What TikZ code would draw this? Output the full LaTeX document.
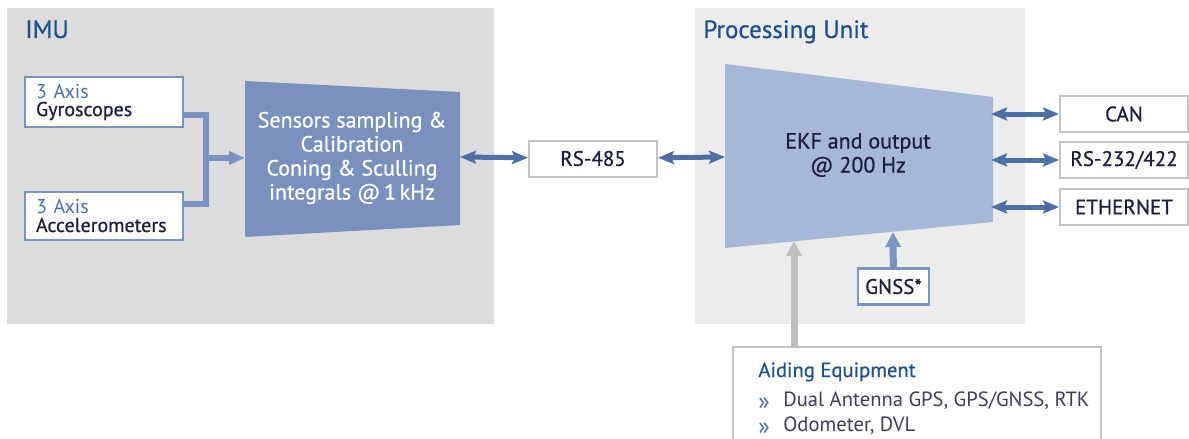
\documentclass[tikz,border=0pt]{standalone}
\usepackage{fontspec}
\setmainfont{PT Sans}
\newfontfamily\mediumfont[FakeBold=0.6]{PT Sans}
\usetikzlibrary{arrows.meta,positioning,calc}
\definecolor{imugray}{RGB}{220,220,220}
\definecolor{pugray}{RGB}{236,236,236}
\definecolor{titleblue}{RGB}{30,80,140}
\definecolor{sensfill}{RGB}{122,145,189}
\definecolor{ekffill}{RGB}{167,183,216}
\definecolor{linkblue}{RGB}{77,111,166}
\definecolor{lightblue}{RGB}{123,147,194}
\definecolor{axisblue}{RGB}{74,111,168}
\definecolor{navy}{RGB}{27,31,59}
\definecolor{portgray}{RGB}{195,195,195}
\definecolor{aidgray}{RGB}{190,190,190}
\definecolor{itemgray}{RGB}{60,62,84}
\newcommand{\bullitem}{\makebox[12.5pt][l]{\raisebox{-1.5pt}{\color{axisblue}\large»}}}
\tikzset{
  titletext/.style = {anchor=base west, inner sep=0pt, text=titleblue, font=\mediumfont\fontsize{12.5}{14}\selectfont},
  sensorbox/.style = {draw=lightblue, line width=1.2pt, fill=white, text=navy, align=left, text width=68pt, inner xsep=5.5pt, minimum height=24pt, font=\mediumfont\fontsize{10}{9}\selectfont},
  portbox/.style = {draw=portgray, line width=1pt, fill=white, text=navy, minimum width=64pt, minimum height=18pt, inner sep=0pt, font=\mediumfont\fontsize{10.5}{12}\selectfont},
  blocktext/.style = {align=center, font=\mediumfont\fontsize{11}{12}\selectfont},
  link/.style = {{Stealth[length=8pt,width=6.5pt,inset=1.5pt]}-{Stealth[length=8pt,width=6.5pt,inset=1.5pt]}, line width=2.5pt, draw=linkblue},
  feed/.style = {line width=3.2pt, draw=lightblue},
  aidfeed/.style = {-{Triangle[length=7.5pt,width=7.5pt]}, line width=3.5pt, draw=aidgray},
}
\begin{document}
\begin{tikzpicture}[x=0.5pt,y=-0.5pt]
  \useasboundingbox (0,0) rectangle (1189,439);
  % Panels
  \fill[imugray] (7,8) rectangle (494,324);
  \fill[pugray] (695,8) rectangle (1025,324);
  \node[titletext] (imutitle) at (25,38) {IMU};
  \node[titletext] (putitle) at (703,38) {Processing Unit};

  % Sensors
  \node[sensorbox] (gyro) at (104,102) {{\normalfont\color{axisblue}3 Axis}\\Gyroscopes};
  \node[sensorbox] (accel) at (104,216) {{\normalfont\color{axisblue}3 Axis}\\Accelerometers};

  % Sampling block
  \fill[sensfill] (245,81) -- (460,92) -- (460,225) -- (245,237) -- cycle;
  \node[blocktext, text=white] (sens) at (352,158) {Sensors sampling \&\\Calibration\\Coning \& Sculling\\integrals @\,1\,kHz};
  \coordinate (merge) at (206,158);
  \coordinate (sensin) at (245,158);
  \coordinate (sensout) at (460,157);

  % EKF block
  \fill[ekffill] (725,64) -- (993,97) -- (993,222) -- (725,248) -- cycle;
  \node[blocktext, text=navy] (ekf) at (858,155) {EKF and output\\@ 200 Hz};
  \coordinate (ekfin) at (725,157);
  \coordinate (ekfright) at (991,157);
  \coordinate (ekfaid) at (794,241);
  \coordinate (ekfgnss) at (893,232);

  % Ports
  \node[portbox] (rs485) at (593,158.5) {RS-485};
  \node[portbox] (can) at (1124,114) {CAN};
  \node[portbox, below=4pt of can] (rs232) {RS-232/422};
  \node[portbox, below=4.5pt of rs232] (eth) {ETHERNET};
  \node[portbox, draw=lightblue, line width=1.2pt, minimum width=35.5pt] (gnss) at (893.5,286.5) {GNSS*};

  % Aiding equipment
  \draw[portgray, line width=1pt] (733,347) rectangle (1101,460);
  \node[anchor=north west, align=left, inner sep=0pt, text=itemgray, font=\fontsize{10.3}{12.5}\selectfont] (aid) at (758,362)
    {{\mediumfont\color{titleblue}Aiding Equipment}\\[2pt]
     \bullitem Dual Antenna GPS, GPS/GNSS, RTK\\
     \bullitem Odometer, DVL};

  % Connectors
  \draw[feed] ([yshift=-6.5pt]gyro.east) -| (merge) |- ([yshift=6pt]accel.east);
  \draw[feed, -{Triangle[length=8pt,width=6.5pt]}] (merge) -- (sensin);
  \draw[link] (sensout) -- (rs485);
  \draw[link] (rs485) -- (ekfin);
  \foreach \port in {can,rs232,eth}
    \draw[link] (\port.west -| ekfright) -- (\port.west);
  \draw[feed, line width=3.5pt, -{Triangle[length=7.5pt,width=7.5pt]}] (gnss) -- (ekfgnss);
  \draw[aidfeed] (ekfaid |- 0,347) -- (ekfaid);
\end{tikzpicture}
\end{document}
